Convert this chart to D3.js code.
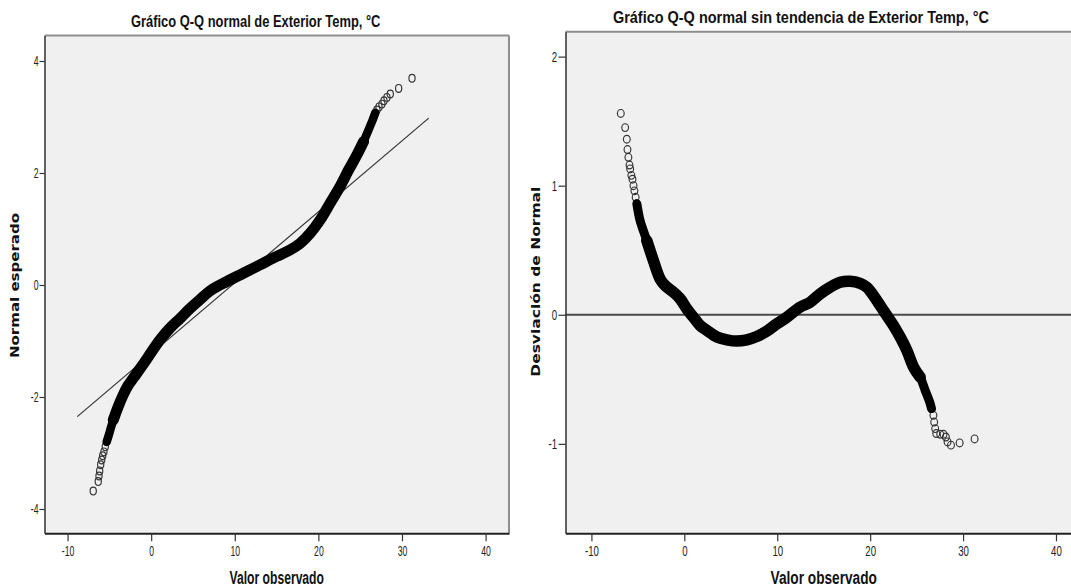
<!DOCTYPE html>
<html><head><meta charset="utf-8">
<script src="https://cdn.jsdelivr.net/npm/d3@7"></script>
<style>body{margin:0;background:#fff;} svg{display:block;}</style>
</head><body><svg id="c" width="1071" height="588"></svg>
<script>
// ---------- data ----------
// Normal Q-Q plot: observed value vs expected normal value
const qqObserved = [-6.93,-6.33,-6.24,-6.16,-6.04,-5.92,-5.8,-5.65,-5.49,-5.32,
  -5.13,-4.53,-3.94,-3.34,-2.74,-1.74,-0.74,0.06,1.05,2.25,3.44,4.64,5.84,7.2,9.03,11.02,13.01,15.0,16.6,17.8,19.0,20.2,21.4,22.6,23.6,24.6,25.4,26.0,26.5,
  26.8,27.0,27.25,27.6,27.85,28.2,28.6,29.6,31.2];
const qqExpected = [-3.68,-3.51,-3.41,-3.32,-3.21,-3.125,-3.05,-2.98,-2.89,-2.80,
  -2.71,-2.41,-2.17,-1.96,-1.79,-1.58,-1.37,-1.19,-0.98,-0.77,-0.60,-0.42,-0.26,-0.09,0.06,0.21,0.36,0.51,0.625,0.74,0.92,1.16,1.46,1.76,2.05,2.32,2.56,2.77,2.95,
  3.07,3.125,3.18,3.23,3.29,3.35,3.41,3.51,3.69];
const qqLineObserved = [-8.84, 33.2];
const qqLineExpected = [-2.35, 2.98];

// Detrended Q-Q plot: observed value vs deviation from normal
const dtObserved = [-6.84,-6.37,-6.19,-6.12,-6.02,-5.9,-5.83,-5.7,-5.58,-5.47,-5.37,-5.24,-5.11,
  -4.76,-4.04,-3.33,-2.61,-2.07,-1.17,-0.45,0.27,0.98,1.70,2.42,3.50,4.57,5.65,6.73,7.80,8.88,9.96,11.03,12.46,13.54,14.62,15.69,16.77,17.84,18.92,19.64,20.36,21.07,21.79,22.51,23.23,23.95,24.67,25.38,25.92,26.46,
  26.6,26.81,26.89,27.0,27.11,27.54,27.9,28.15,28.33,28.7,29.63,31.24];
const dtDeviation = [1.56,1.45,1.36,1.28,1.22,1.16,1.13,1.08,1.05,1.0,0.96,0.91,0.86,
  0.729,0.575,0.42,0.278,0.227,0.175,0.124,0.046,-0.019,-0.083,-0.121,-0.173,-0.194,-0.204,-0.194,-0.168,-0.127,-0.070,-0.019,0.059,0.097,0.162,0.213,0.252,0.260,0.244,0.213,0.149,0.072,-0.005,-0.083,-0.173,-0.276,-0.405,-0.483,-0.585,-0.688,
  -0.727,-0.779,-0.831,-0.882,-0.920,-0.926,-0.926,-0.947,-0.985,-1.01,-0.993,-0.962];
const dtZeroLine = [0, 0];

const xTickValues = [-10, 0, 10, 20, 30, 40];
const qqYTicks = [-4, -2, 0, 2, 4];
const dtYTicks = [-1, 0, 1, 2];

const titleQQ = "Gráfico Q-Q normal de Exterior Temp, °C";
const titleDT = "Gráfico Q-Q normal sin tendencia de Exterior Temp, °C";
const xLabel = "Valor observado";
const yLabelQQ = "Normal esperado";
const yLabelDT = "Desviación de Normal";

// ---------- drawing ----------
const svg = d3.select("#c");
svg.append("rect").attr("width",1071).attr("height",588).attr("fill","#fff");
const SANS = "'Liberation Sans', Arial, sans-serif";
const fmt = d => String(d);

function panel(o) {
  const x = d3.scaleLinear().domain(o.xDomain).range([o.left, o.right]);
  const y = d3.scaleLinear().domain(o.yDomain).range([o.bottom, o.top]);
  const g = svg.append("g");
  g.append("rect").attr("x",o.left).attr("y",o.top)
    .attr("width",o.right-o.left).attr("height",o.bottom-o.top).attr("fill","#f0f0f0");
  // frame
  g.append("line").attr("x1",o.left).attr("x2",o.right).attr("y1",o.top).attr("y2",o.top)
    .attr("stroke","#8e8e8e").attr("stroke-width",2);
  g.append("line").attr("x1",o.right).attr("x2",o.right).attr("y1",o.top).attr("y2",o.bottom)
    .attr("stroke","#8e8e8e").attr("stroke-width",2);

  // reference line
  const line = d3.line().x(d=>x(d[0])).y(d=>y(d[1]));
  g.append("path").datum(d3.zip(o.refX, o.refY)).attr("d",line)
    .attr("fill","none").attr("stroke",o.refColor).attr("stroke-width",o.refWidth);

  const pts = d3.zip(o.xs, o.ys);
  // individual markers (under the dense band)
  g.selectAll("ellipse.pt").data(pts).join("ellipse").attr("class","pt")
    .attr("cx",d=>x(d[0])).attr("cy",d=>y(d[1]))
    .attr("rx",o.rx).attr("ry",3.9)
    .attr("fill","none").attr("stroke","#333").attr("stroke-width",1.15);
  // dense band of overlapping markers
  const curve = d3.line().x(d=>x(d[0])).y(d=>y(d[1])).curve(d3.curveCatmullRom.alpha(0.5));
  g.append("path").datum(pts.slice(o.band[0], o.band[1]+1)).attr("d",curve)
    .attr("fill","none").attr("stroke","#000").attr("stroke-width",o.bandW[0])
    .attr("stroke-linecap","round").attr("stroke-linejoin","round");
  g.append("path").datum(pts.slice(o.core[0], o.core[1]+1)).attr("d",curve)
    .attr("fill","none").attr("stroke","#000").attr("stroke-width",o.bandW[1])
    .attr("stroke-linecap","round").attr("stroke-linejoin","round");

  // axes
  const ax = g.append("g").attr("transform",`translate(0,${o.bottom})`)
    .call(d3.axisBottom(x).tickValues(xTickValues).tickFormat(fmt).tickSize(8).tickSizeOuter(0));
  const ay = g.append("g").attr("transform",`translate(${o.left},0)`)
    .call(d3.axisLeft(y).tickValues(o.yTicks).tickFormat(fmt).tickSize(o.yTickLen).tickSizeOuter(0));
  [ax, ay].forEach(a => {
    a.select(".domain").attr("stroke","#222").attr("stroke-width", a===ax?2:1.4);
    a.selectAll(".tick line").attr("stroke","#333").attr("stroke-width",1.2);
    a.selectAll(".tick text").attr("font-family",SANS).attr("font-size",14).attr("fill","#222")
      .attr("transform",`scale(${o.sq},1)`);
  });
  ax.selectAll(".tick text").attr("y",12.5);
  ay.selectAll(".tick text").attr("x",-o.yLabOff/o.sq).attr("dy","0.34em");

  // texts
  svg.append("text").attr("x",o.titleX).attr("y",o.titleY).attr("text-anchor","middle")
    .attr("font-family",SANS).attr("font-weight","bold").attr("font-size",17).attr("fill","#111")
    .attr("textLength",o.titleW).attr("lengthAdjust","spacingAndGlyphs").text(o.title);
  svg.append("text").attr("x",(o.left+o.right)/2).attr("y",584).attr("text-anchor","middle")
    .attr("font-family",SANS).attr("font-weight","bold").attr("font-size",18).attr("fill","#111")
    .attr("textLength",o.xLabW).attr("lengthAdjust","spacingAndGlyphs").text(xLabel);
  svg.append("text").attr("transform",`translate(${o.yLabX},${o.yLabY}) scale(0.88,1) rotate(-90)`)
    .attr("text-anchor","middle").attr("font-family","'DejaVu Sans', Verdana, sans-serif")
    .attr("font-weight","bold").attr("font-size",13.5).attr("fill","#111")
    .attr("textLength",o.yLabW).attr("lengthAdjust","spacingAndGlyphs").text(o.yLab);
}

panel({
  left:44.5, right:509, top:35.5, bottom:533.3,
  xDomain:[-12.76, 42.8], yDomain:[-4.434, 4.455],
  xs:qqObserved, ys:qqExpected, band:[9,39], core:[11,36], bandW:[8.5,11], rx:3.1,
  refX:qqLineObserved, refY:qqLineExpected, refColor:"#333", refWidth:1.2,
  yTicks:qqYTicks, yTickLen:5, yLabOff:6, sq:0.62,
  title:titleQQ, titleX:255.7, titleY:27, titleW:249.5,
  xLabW:94.4, yLab:yLabelQQ, yLabX:19, yLabY:285.5, yLabW:145
});

panel({
  left:565.5, right:1082, top:31.7, bottom:533.3,
  xDomain:[-12.79, 42.8], yDomain:[-1.693, 2.193],
  xs:dtObserved, ys:dtDeviation, band:[12,50], core:[14,47], bandW:[9,11.5], rx:3.4,
  refX:[-12.79, 42.8], refY:dtZeroLine, refColor:"#4a4a4a", refWidth:2,
  yTicks:dtYTicks, yTickLen:7, yLabOff:8.5, sq:0.69,
  title:titleDT, titleX:800.9, titleY:22.5, titleW:376,
  xLabW:106.3, yLab:yLabelDT, yLabX:540, yLabY:281.7, yLabW:190
});
</script></body></html>
